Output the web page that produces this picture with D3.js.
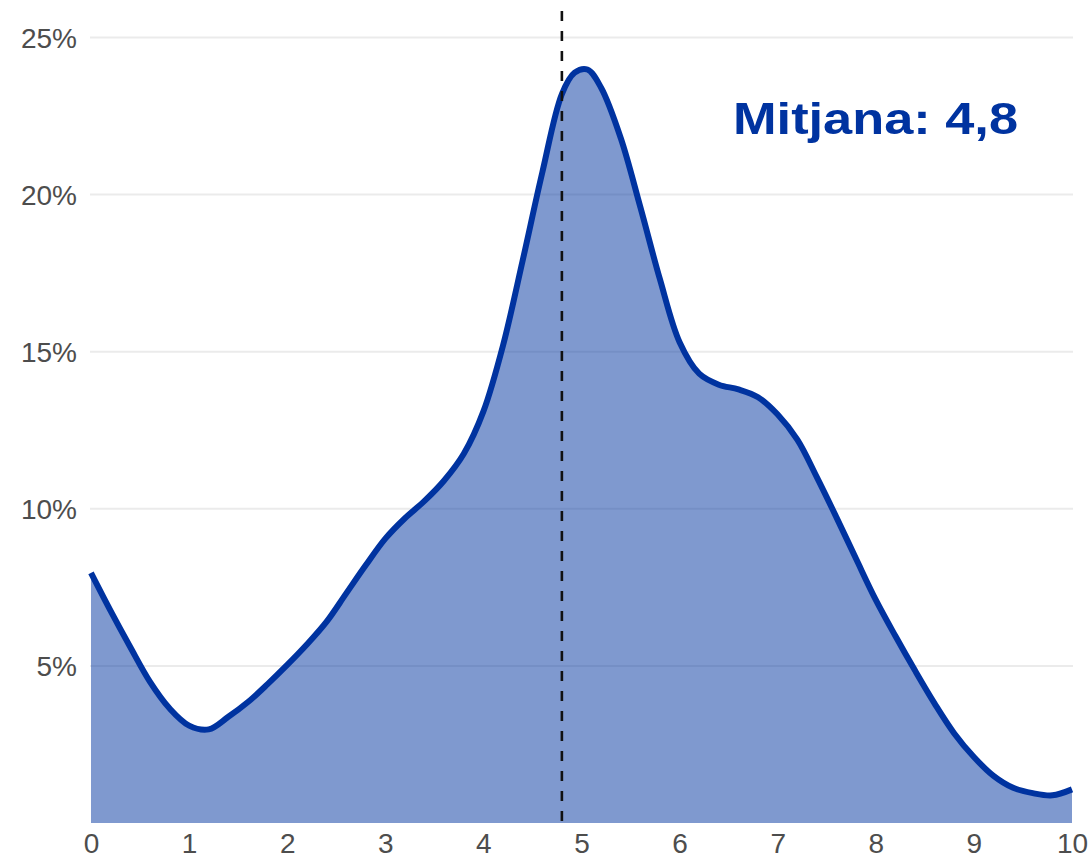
<!DOCTYPE html>
<html>
<head>
    <meta charset="utf-8">
    <title>Mitjana</title>
    <style>
        html, body { margin: 0px; padding: 0px; background: #fff; }
        svg { display: block; }
        .tick text { font-family: 'Liberation Sans', Arial, sans-serif; fill: #4d4d4d; }
    </style>
    <script src="https://d3js.org/d3.v7.min.js"></script>
</head>
<body>
<script>
    // density (x = score, y = % of answers)
    var scores = [0, 0.2, 0.4, 0.6, 0.8, 1, 1.2, 1.4, 1.6, 1.8, 2, 2.2, 2.4, 2.6, 2.8, 3, 3.2, 3.4, 3.6, 3.8,
                  4, 4.2, 4.4, 4.6, 4.8, 4.93, 5.06, 5.2, 5.4, 5.6, 5.8, 6, 6.2, 6.4, 6.6, 6.8, 7, 7.2, 7.4, 7.6, 7.8,
                  8, 8.2, 8.4, 8.6, 8.8, 9, 9.2, 9.4, 9.6, 9.8, 10];
    var share = [7.96, 6.75, 5.6, 4.5, 3.65, 3.1, 2.98, 3.38, 3.85, 4.42, 5.03, 5.68, 6.4, 7.3, 8.2, 9.05, 9.7, 10.25, 10.9, 11.75,
                 13.1, 15.2, 17.9, 20.7, 23.2, 23.88, 23.98, 23.4, 21.8, 19.6, 17.3, 15.3, 14.3, 13.95, 13.8, 13.55, 13.0, 12.2, 11.0, 9.72, 8.4,
                 7.1, 5.95, 4.85, 3.8, 2.85, 2.1, 1.5, 1.12, 0.95, 0.88, 1.07];
    var xTicks = [0, 1, 2, 3, 4, 5, 6, 7, 8, 9, 10];
    var yTicks = [5, 10, 15, 20, 25];
    var meanValue = 4.8;
    var meanLabel = "Mitjana: 4,8";

    var width = 1091, height = 858;
    var blue = "#0033a0";

    var data = scores.map(function(d, i) { return { x: d, y: share[i] }; });

    var xScale = d3.scaleLinear().domain([0, 10]).range([91, 1072]);
    var yScale = d3.scaleLinear().domain([0, 25]).range([823, 37.5]);

    var svg = d3.select("body").append("svg")
        .attr("width", width)
        .attr("height", height);

    // horizontal grid
    svg.append("g").selectAll("line").data(yTicks)
        .enter().append("line")
        .attr("x1", 90)
        .attr("x2", 1073)
        .attr("y1", function(d) { return yScale(d); })
        .attr("y2", function(d) { return yScale(d); })
        .attr("stroke", "#ebebeb")
        .attr("stroke-width", 2);

    var area = d3.area()
        .x(function(d) { return xScale(d.x); })
        .y0(yScale(0))
        .y1(function(d) { return yScale(d.y); })
        .curve(d3.curveCatmullRom);

    var line = d3.line()
        .x(function(d) { return xScale(d.x); })
        .y(function(d) { return yScale(d.y); })
        .curve(d3.curveCatmullRom);

    svg.append("path")
        .attr("d", area(data))
        .attr("fill", blue)
        .attr("fill-opacity", 0.5);

    svg.append("path")
        .attr("d", line(data))
        .attr("fill", "none")
        .attr("stroke", blue)
        .attr("stroke-width", 6)
        .attr("stroke-linejoin", "round");

    // mean line
    svg.append("line")
        .attr("x1", xScale(meanValue))
        .attr("x2", xScale(meanValue))
        .attr("y1", 11)
        .attr("y2", yScale(0))
        .attr("stroke", "#111")
        .attr("stroke-width", 2.6)
        .attr("stroke-dasharray", "10,10");

    svg.append("text")
        .attr("x", 733)
        .attr("y", 134)
        .attr("font-family", "'Liberation Sans', Arial, sans-serif")
        .attr("font-weight", "bold")
        .attr("font-size", 45)
        .attr("textLength", 285)
        .attr("lengthAdjust", "spacingAndGlyphs")
        .attr("fill", blue)
        .text(meanLabel);

    // axes, no lines, labels only
    var yAxis = d3.axisLeft(yScale)
        .tickValues(yTicks)
        .tickSize(0)
        .tickPadding(0)
        .tickFormat(function(d) { return d + "%"; });

    var gy = svg.append("g").attr("transform", "translate(77, 0)").call(yAxis);
    gy.select(".domain").remove();
    gy.selectAll("text").attr("font-size", 28).attr("dy", "0.35em");

    var xAxis = d3.axisBottom(xScale)
        .tickValues(xTicks)
        .tickSize(0)
        .tickPadding(0);

    var gx = svg.append("g").attr("transform", "translate(0, 853)").call(xAxis);
    gx.select(".domain").remove();
    gx.selectAll("text").attr("font-size", 28).attr("dy", 0).attr("y", 0);
</script>
</body>
</html>
